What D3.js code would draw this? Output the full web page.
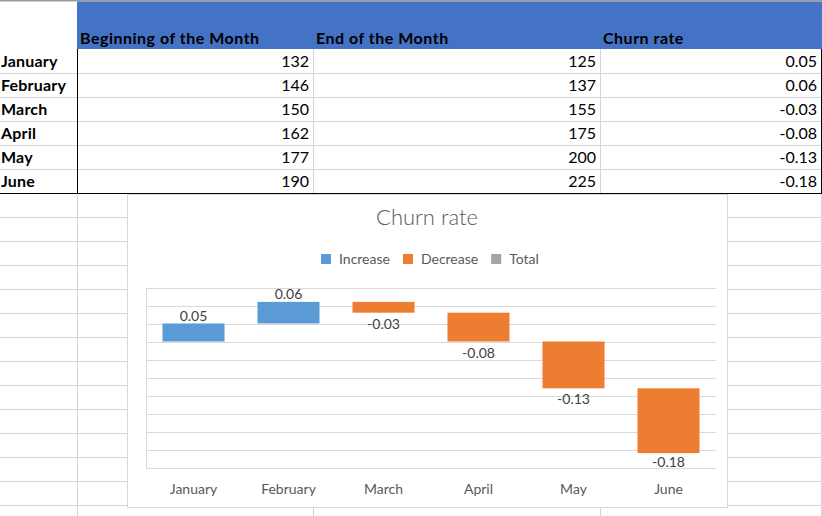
<!DOCTYPE html>
<html><head><meta charset="utf-8">
<script src="https://cdn.jsdelivr.net/npm/d3@7"></script>
<style>
html,body{margin:0;padding:0;background:#fff;overflow:hidden;}
svg{display:block;}
text{font-family:Lato,"Open Sans",sans-serif;}
</style></head>
<body><svg id="c" width="822" height="516"></svg>
<script>
// ---- data ----
const months = ["January","February","March","April","May","June"];
const beginning = [132,146,150,162,177,190];
const endMonth = [125,137,155,175,200,225];
const churn = [0.05,0.06,-0.03,-0.08,-0.13,-0.18];
const churnLabels = ["0.05","0.06","-0.03","-0.08","-0.13","-0.18"];
const headers = ["Beginning of the Month","End of the Month","Churn rate"];
const legendItems = ["Increase","Decrease","Total"];
const chartTitle = "Churn rate";

const colors = {Increase:"#5b9bd5", Decrease:"#ed7d31", Total:"#a5a5a5"};

const svg = d3.select("#c");

// ---- spreadsheet grid ----
const colX = [0,77,313,600,821];
const headerH = 49, rowH = 24;
const gridG = svg.append("g");
for (let yy = headerH + rowH; yy <= 516; yy += rowH) {
  gridG.append("line").attr("x1",0).attr("x2",822).attr("y1",yy+0.5).attr("y2",yy+0.5)
    .attr("stroke","#d4d4d4");
}
colX.slice(1).forEach(x=>{
  gridG.append("line").attr("x1",x+0.5).attr("x2",x+0.5).attr("y1",headerH).attr("y2",516)
    .attr("stroke","#d4d4d4");
});
svg.append("rect").attr("x",0).attr("y",0).attr("width",822).attr("height",1.5).attr("fill","#9a9a9a");
svg.append("rect").attr("x",77).attr("y",1.5).attr("width",745).attr("height",headerH-1.5).attr("fill","#4472c4");
headers.forEach((h,i)=>{
  svg.append("text").attr("x",colX[i+1]+3).attr("y",44).attr("font-weight","bold")
    .attr("font-size",16).attr("letter-spacing",0.5).attr("fill","#000").text(h);
});
const rowsData = months.map((m,i)=>[m,beginning[i],endMonth[i],churnLabels[i]]);
rowsData.forEach((r,i)=>{
  const by = headerH + rowH*(i+1) - 6;
  svg.append("text").attr("x",1).attr("y",by).attr("font-weight","bold").attr("font-size",16)
    .attr("letter-spacing",0.2).text(r[0]);
  for (let j=1;j<4;j++){
    svg.append("text").attr("x",colX[j+1]-4).attr("y",by).attr("text-anchor","end")
      .attr("font-size",16).text(r[j]);
  }
});
svg.append("line").attr("x1",77.5).attr("x2",77.5).attr("y1",headerH).attr("y2",193).attr("stroke","#000");
svg.append("line").attr("x1",821.5).attr("x2",821.5).attr("y1",headerH).attr("y2",193).attr("stroke","#000");
svg.append("line").attr("x1",0).attr("x2",822).attr("y1",193.5).attr("y2",193.5).attr("stroke","#000");

// ---- chart ----
const cx0 = 127, cy0 = 194, cw = 600, ch = 313;
svg.append("rect").attr("x",cx0+0.5).attr("y",cy0+0.5).attr("width",cw).attr("height",ch)
  .attr("fill","#fff").attr("stroke","#d9d9d9");

svg.append("text").attr("x",cx0+cw/2).attr("y",225).attr("text-anchor","middle")
  .attr("font-size",22).attr("font-weight",300).attr("fill","#595959").text(chartTitle);

// legend
const lg = svg.append("g");
let lx = 0;
legendItems.forEach(k=>{
  const g = lg.append("g").attr("transform",`translate(${lx},0)`);
  g.append("rect").attr("x",0).attr("y",254).attr("width",10).attr("height",10).attr("fill",colors[k]);
  const t = g.append("text").attr("x",18).attr("y",264).attr("font-size",14).attr("fill","#595959").text(k);
  lx += 18 + t.node().getComputedTextLength() + 13;
});
lx -= 13;
lg.attr("transform",`translate(${Math.round(430 - lx/2)},0)`);

// scales
const x = d3.scaleBand().domain(months).range([146,716]).paddingInner(0.347).paddingOuter(0.1735);
const y = d3.scaleLinear().domain([-0.35,0.15]).range([467.5,287.5]);

svg.append("g").selectAll("line").data(y.ticks(10)).join("line")
  .attr("x1",146).attr("x2",716)
  .attr("y1",d=>Math.round(y(d))+0.5).attr("y2",d=>Math.round(y(d))+0.5)
  .attr("stroke","#d9d9d9");
svg.append("line").attr("x1",146.5).attr("x2",146.5).attr("y1",287.5).attr("y2",468)
  .attr("stroke","#d9d9d9");

// waterfall
let cum = 0;
const bars = churn.map((v,i)=>{ const s = cum; cum += v; return {m:months[i], start:s, end:cum, v, lab:churnLabels[i]}; });

svg.append("g").selectAll("rect").data(bars).join("rect")
  .attr("x",d=>x(d.m)).attr("width",x.bandwidth())
  .attr("y",d=>y(Math.max(d.start,d.end)))
  .attr("height",d=>Math.abs(y(d.start)-y(d.end)))
  .attr("fill",d=>d.v>=0?colors.Increase:colors.Decrease);

svg.append("g").selectAll("text").data(bars).join("text")
  .attr("x",d=>x(d.m)+x.bandwidth()/2)
  .attr("y",d=>d.v>=0 ? y(d.end)-3 : Math.min(y(d.end)+16, 467))
  .attr("text-anchor","middle").attr("font-size",14).attr("fill","#404040")
  .text(d=>d.lab);

// category axis
const xAxis = d3.axisBottom(x).tickSize(0).tickPadding(0);
const ax = svg.append("g").attr("transform","translate(0,468)").call(xAxis);
ax.select(".domain").remove();
ax.selectAll("text").attr("dy",null).attr("y",26).attr("font-size",14).attr("fill","#595959")
  .attr("font-family","Lato, 'Open Sans', sans-serif");
</script></body></html>
